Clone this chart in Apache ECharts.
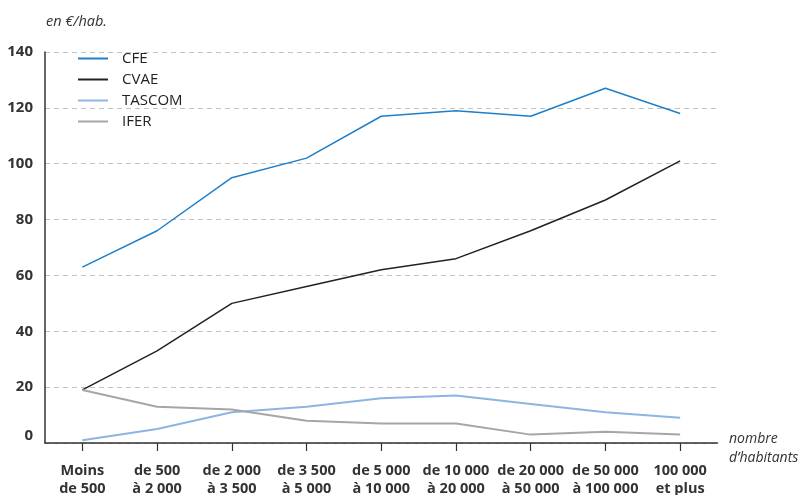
<!DOCTYPE html>
<html><head><meta charset="utf-8">
<script src="https://cdn.jsdelivr.net/npm/echarts@6/dist/echarts.min.js"></script>
<style>html,body{margin:0;padding:0;background:#fff}#c{width:803px;height:495px}</style>
</head><body><div id="c"></div>
<script>
const categories = ["Moins\nde 500","de 500\nà 2 000","de 2 000\nà 3 500","de 3 500\nà 5 000","de 5 000\nà 10 000","de 10 000\nà 20 000","de 20 000\nà 50 000","de 50 000\nà 100 000","100 000\net plus"];
const cfe =    [63, 76, 95, 102, 117, 119, 117, 127, 118];
const cvae =   [19, 33, 50, 56, 62, 66, 76, 87, 101];
const tascom = [1, 5, 11, 13, 16, 17, 14, 11, 9];
const ifer =   [19, 13, 12, 8, 7, 7, 3, 4, 3];
const yTicks = [0, 20, 40, 60, 80, 100, 120, 140];

const FONT = '"Open Sans", "Liberation Sans", sans-serif';
const chart = echarts.init(document.getElementById('c'), null, {renderer:'canvas'});
const mk = (name, data, color, width) => ({
  name, type:'line', data, symbol:'none', animation:false,
  lineStyle:{color, width}, itemStyle:{color}
});
chart.setOption({
  animation:false,
  textStyle:{fontFamily:FONT},
  grid:{left:45, right:85.5, top:52, bottom:52, containLabel:false, outerBoundsMode:'none'},
  title:{text:'en €/hab.', left:41, top:9, textStyle:{fontFamily:FONT, fontSize:14.5, fontStyle:'italic', fontWeight:'normal', color:'#333'}},
  legend:{orient:'vertical', left:73, top:46, itemWidth:30, itemHeight:2, itemGap:6, icon:'rect',
    formatter: n => '{t|' + n + '}',
    textStyle:{fontFamily:FONT, fontSize:15, color:'#222',
      rich:{t:{fontFamily:FONT, fontSize:15, color:'#222', padding:[0,0,0,9]}}},
    data:['CFE','CVAE','TASCOM','IFER']},
  xAxis:{type:'category', data:categories, boundaryGap:true,
    axisLine:{lineStyle:{color:'#333', width:1.5}},
    axisTick:{show:true, alignWithLabel:true, length:8, lineStyle:{color:'#333', width:1.2}},
    axisLabel:{interval:0, margin:19, fontFamily:FONT, fontSize:14.5, fontWeight:'bold', color:'#333', lineHeight:18}},
  yAxis:{type:'value', min:yTicks[0], max:yTicks[yTicks.length-1], interval:20,
    axisLine:{show:true, lineStyle:{color:'#333', width:1.5}},
    axisTick:{show:false},
    axisLabel:{margin:12, fontFamily:FONT, fontSize:15, fontWeight:'bold', color:'#333',
      formatter:v => v === 0 ? '{z|0}' : String(v),
      rich:{z:{fontFamily:FONT, fontSize:15, fontWeight:'bold', color:'#333', padding:[0,0,14,0]}}},
    splitLine:{show:true, lineStyle:{color:'#c2c2c2', type:[5,4], width:1.2}}},
  graphic:[{type:'text', left:729, top:430, style:{text:'nombre\nd’habitants', fontFamily:FONT, fontSize:14, fontStyle:'italic', fill:'#333', lineHeight:19}}],
  series:[
    mk('CFE', cfe, '#1f7fc8', 1.5),
    mk('CVAE', cvae, '#222222', 1.5),
    mk('TASCOM', tascom, '#8db5e4', 2),
    mk('IFER', ifer, '#a6a6a8', 2)
  ]
});
</script></body></html>
